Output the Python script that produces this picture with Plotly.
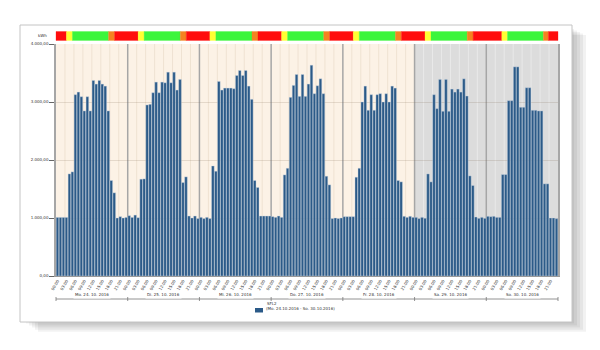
import plotly.graph_objects as go

# ---------------- data ----------------
day_labels = ["Mo. 24. 10. 2016", "Di. 25. 10. 2016", "Mi. 26. 10. 2016",
              "Do. 27. 10. 2016", "Fr. 28. 10. 2016", "Sa. 29. 10. 2016",
              "So. 30. 10. 2016"]
hour_labels = ["%02d:00" % h for h in range(24)]
weekend = [False, False, False, False, False, True, True]

mo = [1010, 1010, 1010, 1010, 1760, 1795, 3126, 3171, 3091, 2846, 3091, 2846,
      3371, 3309, 3371, 3309, 3274, 2846, 1646, 1434, 1000, 1023, 1000, 1010]
di = [1040, 1010, 1050, 1005, 1669, 1674, 2949, 2960, 3160, 3343, 3160, 3343,
      3331, 3514, 3331, 3514, 3206, 3389, 1611, 1709, 1034, 1000, 1034, 989]
mi = [1011, 989, 1011, 989, 1897, 1806, 3354, 3206, 3240, 3240, 3240, 3229,
      3457, 3543, 3457, 3543, 3274, 3046, 1646, 1526, 1034, 1034, 1034, 1034]
do = [1023, 1011, 1034, 1011, 1743, 1857, 3080, 3286, 3474, 3097, 3474, 3097,
      3309, 3634, 3143, 3280, 3400, 3143, 1720, 1571, 989, 1000, 989, 1000]
fr = [1023, 1023, 1023, 1023, 1703, 1857, 3000, 3274, 2857, 3126, 2857, 3126,
      3143, 3000, 3143, 3000, 3274, 3240, 1646, 1623, 1029, 1011, 1029, 1011]
sa = [1011, 989, 1011, 995, 1760, 1623, 3126, 2886, 3389, 2840, 3389, 2840,
      3223, 3171, 3223, 3171, 3400, 3103, 1726, 1560, 1017, 994, 1011, 994]
so = [1029, 1023, 1029, 1011, 1011, 1749, 1749, 3023, 3023, 3606, 3606, 2909,
      2909, 3246, 3246, 2857, 2857, 2846, 2846, 1589, 1589, 1000, 1000, 989]
series_name = "SFL2"
series_period = "(Mo. 24.10.2016 - So. 30.10.2016)"

# tariff band: per day (yellow start, green start, orange start, red start) in hours
tariff = [(3.5, 5.5, 17.6, 19.6)] * 6 + [(5.2, 7.1, 19.1, 20.8)]

y_ticks = [0, 1000, 2000, 3000, 4000]
y_ticktext = ["0,00", "1.000,00", "2.000,00", "3.000,00", "4.000,00"]

# ---------------- figure ----------------
values = mo + di + mi + do + fr + sa + so
n = len(values)
xs = list(range(n))

W, H = 600, 350
L, R, T, B = 56, 42, 44, 74
pw, ph = W - L - R, H - T - B


def px(xp):
    return (xp - L) / pw


def py(yp):
    return (H - B - yp) / ph


shapes = []
# card shadow
for i in range(5):
    o = 2 + 3 * i
    shapes.append(dict(type="rect", xref="paper", yref="paper", layer="below",
                       x0=px(24 + o), x1=px(572 + o), y0=py(322 + o * 0.7), y1=py(28 + o * 0.5),
                       line=dict(width=0), fillcolor="rgba(0,0,0,0.05)"))
# card
shapes.append(dict(type="rect", xref="paper", yref="paper", layer="below",
                   x0=px(20), x1=px(572), y0=py(322), y1=py(25),
                   line=dict(color="#c4c4c4", width=1), fillcolor="white"))

# day backgrounds and grid lines
for d in range(7):
    x0 = d * 24 - 0.5
    x1 = x0 + 24
    shapes.append(dict(type="rect", xref="x", yref="y", layer="below",
                       x0=x0, x1=x1, y0=0, y1=4000, line=dict(width=0),
                       fillcolor="#dcdcdc" if weekend[d] else "#fcf2e6"))
    for k in range(1, 8):
        xv = x0 + 3 * k
        shapes.append(dict(type="line", xref="x", yref="y", layer="below",
                           x0=xv, x1=xv, y0=0, y1=4000,
                           line=dict(color="#e9e9e9" if weekend[d] else "#efe2d2", width=1)))
for d in range(1, 7):
    xv = d * 24 - 0.5
    shapes.append(dict(type="line", xref="x", yref="y", layer="below",
                       x0=xv, x1=xv, y0=0, y1=4000,
                       line=dict(color="#a6a6a6", width=1.5)))

# tariff band (merge consecutive segments of equal colour)
band_y0, band_y1 = py(40.5), py(31.5)
segs = []
for d in range(7):
    yb, gb, ob, rb = tariff[d]
    for s, e, c in [(0, yb, "#ff0d0d"), (yb, gb, "#ffff33"), (gb, ob, "#3cf53c"),
                    (ob, rb, "#f58220"), (rb, 24, "#ff0d0d")]:
        s, e = d * 24 + s, d * 24 + e
        if segs and segs[-1][2] == c:
            segs[-1][1] = e
        else:
            segs.append([s, e, c])
for s, e, c in segs:
    shapes.append(dict(type="rect", xref="paper", yref="paper", layer="below",
                       x0=s / n, x1=e / n, y0=band_y0, y1=band_y1,
                       line=dict(width=0.3, color=c), fillcolor=c))

# day label brackets
ly = py(299)
shapes.append(dict(type="line", xref="paper", yref="paper", x0=0, x1=1, y0=ly, y1=ly,
                   line=dict(color="#777777", width=0.8)))
for d in range(8):
    xv = d * 24 / n
    shapes.append(dict(type="line", xref="paper", yref="paper", x0=xv, x1=xv,
                       y0=py(297), y1=py(301), line=dict(color="#777777", width=0.8)))

annotations = []
for d in range(7):
    annotations.append(dict(x=d * 24 + 11.5, y=ly, xref="x", yref="paper",
                            text=day_labels[d], showarrow=False, bgcolor="white",
                            borderpad=1, font=dict(size=4, color="#333333",
                                                   family="DejaVu Sans")))
annotations.append(dict(x=px(48), y=py(36), xref="paper", yref="paper", text="kWh",
                        showarrow=False, xanchor="right", yanchor="middle", borderpad=0,
                        font=dict(size=4, color="#333333", family="DejaVu Sans")))
# legend
shapes.append(dict(type="rect", xref="paper", yref="paper", x0=px(255), x1=px(263),
                   y0=py(312.5), y1=py(308), line=dict(width=0), fillcolor="#2b5a88"))
annotations.append(dict(x=px(265), y=py(307.5), xref="paper", yref="paper",
                        text=series_name, showarrow=False, xanchor="left",
                        font=dict(size=4, color="#333333", family="DejaVu Sans")))
annotations.append(dict(x=px(264), y=py(312.5), xref="paper", yref="paper",
                        text=series_period, showarrow=False, xanchor="left",
                        font=dict(size=4, color="#333333", family="DejaVu Sans")))

fig = go.Figure(go.Bar(x=xs, y=values, name=series_name,
                       marker=dict(color="#2b5a88",
                                   line=dict(color="#c9d7e4", width=0.4)),
                       showlegend=False))

fig.update_layout(
    width=W, height=H,
    margin=dict(l=L, r=R, t=T, b=B, pad=0),
    paper_bgcolor="white", plot_bgcolor="white",
    bargap=0.12,
    shapes=shapes, annotations=annotations,
    font=dict(family="DejaVu Sans", size=4, color="#333333"),
    xaxis=dict(range=[-0.5, n - 0.5], tickmode="array",
               tickvals=[i for i in xs if i % 3 == 0],
               ticktext=[hour_labels[i % 24] for i in xs if i % 3 == 0],
               tickangle=-60, tickfont=dict(size=4), showgrid=False,
               zeroline=False, showline=True, linecolor="#9a9a9a", linewidth=1,
               ticks="", fixedrange=True),
    yaxis=dict(range=[0, 4000], tickmode="array", tickvals=y_ticks,
               ticktext=y_ticktext, tickfont=dict(size=4), showgrid=True,
               gridcolor="rgba(120,100,80,0.18)", gridwidth=1, zeroline=False,
               showline=True, mirror=True, linecolor="#a6a6a6", linewidth=1.5,
               ticks="outside", ticklen=5, tickcolor="#666666", fixedrange=True),
)

fig.write_html("out.html")
